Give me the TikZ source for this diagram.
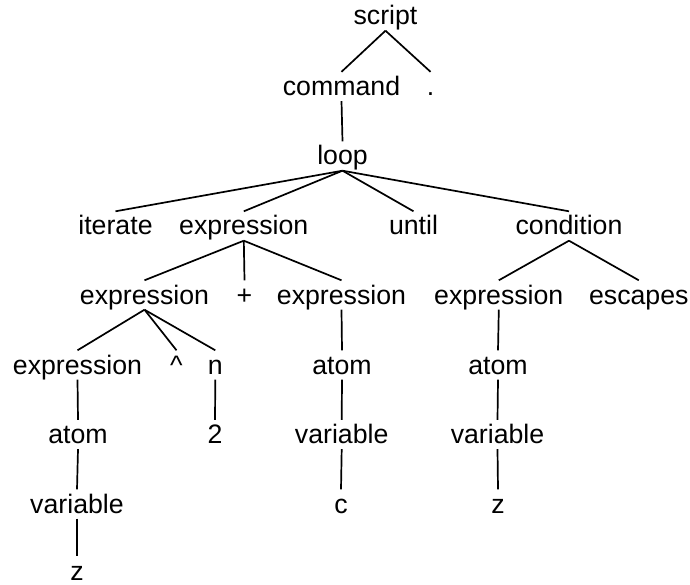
\documentclass[tikz,border=0pt]{standalone}
\usepackage{fontspec}
\setmainfont{Liberation Sans}
\begin{document}
\begin{tikzpicture}[x=1pt,y=-1pt,
  lbl/.style={anchor=base,inner sep=0pt,text height=23.5pt,text depth=5.5pt,
    font=\fontsize{26.7}{31}\selectfont},
  edge/.style={draw=black,line width=1.7pt}]
\useasboundingbox (0,0) rectangle (690,585);
% parse tree nodes, one row per level
\node[lbl] (script) at (385.5,25) {script};
\node[lbl] (command) at (341.5,95.5) {command};
\node[lbl] (dot) at (430.5,95.5) {.};
\node[lbl] (loop) at (342.5,165) {loop};
\node[lbl] (iterate) at (115.5,235) {iterate};
\node[lbl] (exprA) at (243.8,235) {expression};
\node[lbl] (until) at (413.5,235) {until};
\node[lbl] (condition) at (569,235) {condition};
\node[lbl] (exprB) at (144.5,304) {expression};
\node[lbl] (plus) at (244.5,304) {+};
\node[lbl] (exprC) at (341.5,304) {expression};
\node[lbl] (exprD) at (498.8,304) {expression};
\node[lbl] (escapes) at (638.8,304) {escapes};
\node[lbl] (exprE) at (77.5,374) {expression};
\node[lbl] (caret) at (176.5,374) {\textasciicircum};
\node[lbl] (n) at (215.3,374) {n};
\node[lbl] (atomC) at (342,374) {atom};
\node[lbl] (atomD) at (498,374) {atom};
\node[lbl] (atomE) at (78,443.5) {atom};
\node[lbl] (two) at (215,443.5) {2};
\node[lbl] (varC) at (341.7,443.5) {variable};
\node[lbl] (varD) at (497.5,443.5) {variable};
\node[lbl] (varE) at (77,513) {variable};
\node[lbl] (c) at (341,513) {c};
\node[lbl] (zD) at (498,513) {z};
\node[lbl,text depth=1pt] (zE) at (77,580) {z};
% branches
\path[edge] (script.south) -- (command.north);
\path[edge] (script.south) -- (dot.north);
\path[edge] (command.south) -- (loop.north);
\path[edge] (loop.south) -- (iterate.north);
\path[edge] (loop.south) -- (exprA.north);
\path[edge] (loop.south) -- (until.north);
\path[edge] (loop.south) -- (condition.north);
\path[edge] (exprA.south) -- (exprB.north);
\path[edge] (exprA.south) -- (plus.north);
\path[edge] (exprA.south) -- (exprC.north);
\path[edge] (condition.south) -- (exprD.north);
\path[edge] (condition.south) -- (escapes.north);
\path[edge] (exprB.south) -- (exprE.north);
\path[edge] (exprB.south) -- (caret.north);
\path[edge] (exprB.south) -- (n.north);
\path[edge] (exprC.south) -- (atomC.north);
\path[edge] (exprD.south) -- (atomD.north);
\path[edge] (exprE.south) -- (atomE.north);
\path[edge] (n.south) -- (two.north);
\path[edge] (atomC.south) -- (varC.north);
\path[edge] (atomD.south) -- (varD.north);
\path[edge] (atomE.south) -- (varE.north);
\path[edge] (varC.south) -- (c.north);
\path[edge] (varD.south) -- (zD.north);
\path[edge] (varE.south) -- (zE.north);
\end{tikzpicture}
\end{document}
